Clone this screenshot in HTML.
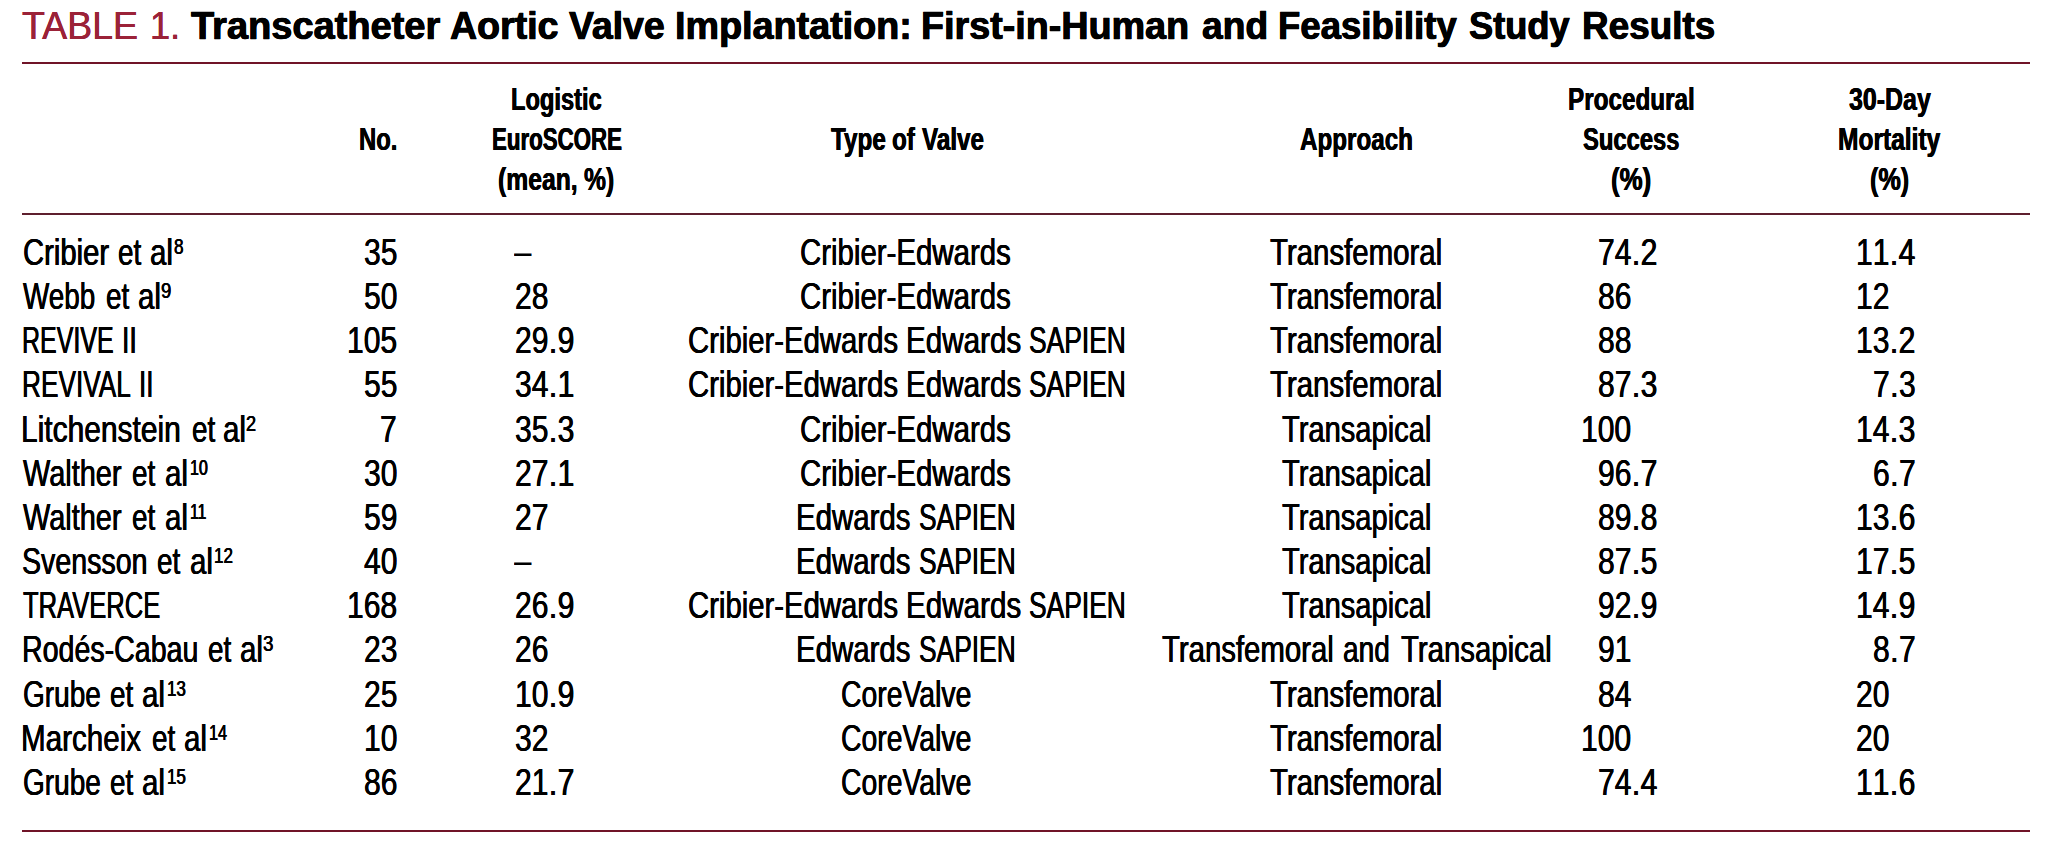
<!DOCTYPE html>
<html lang="en">
<head>
<meta charset="utf-8">
<title>Table 1. Transcatheter Aortic Valve Implantation</title>
<style>
html,body{margin:0;padding:0;background:#fff}
body{width:2045px;height:845px;position:relative;overflow:hidden;font-family:"Liberation Sans",Arial,Helvetica,sans-serif;color:#000}
.ln{position:absolute;left:22px;width:2008px;height:2px;background:#701428}
.r{position:absolute;left:0;width:2045px;height:0;margin:0;padding:0;line-height:1;white-space:nowrap;--w:0px}
.r span,.r b,.r sup{position:absolute;top:0;display:block;white-space:nowrap;line-height:1;transform-origin:0 0;transform:scaleX(var(--s));
 text-shadow:calc(var(--w)/var(--s)) 0 0 currentColor,calc(var(--w)/var(--s)*-1) 0 0 currentColor}
.ttl{font-size:38.9px;color:#9b2238}
.ttl span{--w:.15px}
.ttl b{color:#000;font-weight:bold;--w:0.35px;-webkit-text-stroke:.6px #000}
.hd{font-size:31.9px;font-weight:bold;--w:0.3px}
.bd{font-size:37.3px;--w:0.3px}
.bd sup{font-size:22.0px;top:2.10px;vertical-align:baseline}
.bd .d{text-shadow:none;top:-1px}
.n{font-kerning:none}
.n i{font-style:normal;margin:0 0.015em}
</style>
</head>
<body>
<div class="ln" style="top:62px"></div>
<div class="ln" style="top:213px;background:#5e1f2e"></div>
<div class="ln" style="top:830px"></div>
<div class="r ttl" style="top:7.25px"><span style="left:21.61px;--s:0.9644">TABLE</span> <span style="left:149.84px;--s:0.9284">1.</span> <b style="left:191.30px;--s:0.9773">Transcatheter</b> <b style="left:449.91px;--s:0.9656">Aortic</b> <b style="left:568.60px;--s:0.9620">Valve</b> <b style="left:675.14px;--s:0.9701">Implantation:</b> <b style="left:920.74px;--s:0.9695">First-in-Human</b> <b style="left:1201.62px;--s:0.9567">and</b> <b style="left:1278.12px;--s:0.9396">Feasibility</b> <b style="left:1468.73px;--s:0.9313">Study</b> <b style="left:1581.99px;--s:0.9486">Results</b></div>
<div class="r hd" style="top:84.25px"><span style="left:510.62px;--s:0.7423">Logistic</span> <span style="left:1567.78px;--s:0.7612">Procedural</span> <span style="left:1848.61px;--s:0.7821">30-Day</span></div>
<div class="r hd" style="top:124.25px"><span style="left:358.51px;--s:0.7473">No.</span> <span style="left:491.61px;--s:0.6984">EuroSCORE</span> <span style="left:830.50px;--s:0.7607">Type</span> <span style="left:892.08px;--s:0.7607">of</span> <span style="left:921.73px;--s:0.7607">Valve</span> <span style="left:1299.82px;--s:0.7587">Approach</span> <span style="left:1583.43px;--s:0.7456">Success</span> <span style="left:1838.17px;--s:0.7694">Mortality</span></div>
<div class="r hd" style="top:164.05px"><span style="left:497.64px;--s:0.7749">(mean,</span> <span style="left:584.18px;--s:0.7749">%)</span> <span style="left:1611.39px;--s:0.8113">(%)</span> <span style="left:1870.32px;--s:0.7900">(%)</span></div>
<div class="r bd" style="top:233.80px"><span style="left:22.53px;--s:0.7840">Cribier</span> <span style="left:118.23px;--s:0.7483">et</span> <span style="left:150.18px;--s:0.7911">al</span><sup style="left:173.66px;--s:0.7789">8</sup> <span class="n" style="left:363.59px;--s:0.8052">35</span> <span class="d" style="left:513.80px;--s:0.8436">–</span> <span style="left:800.32px;--s:0.7884">Cribier-Edwards</span> <span style="left:1270.14px;--s:0.7887">Transfemoral</span> <span class="n" style="left:1597.69px;--s:0.8052">74<i>.</i>2</span> <span class="n" style="left:1855.89px;--s:0.8052">11<i>.</i>4</span></div>
<div class="r bd" style="top:277.98px"><span style="left:23.30px;--s:0.7475">Webb</span> <span style="left:105.83px;--s:0.7483">et</span> <span style="left:137.78px;--s:0.7911">al</span><sup style="left:161.43px;--s:0.8436">9</sup> <span class="n" style="left:363.59px;--s:0.8052">50</span> <span class="n" style="left:514.60px;--s:0.8052">28</span> <span style="left:800.32px;--s:0.7884">Cribier-Edwards</span> <span style="left:1270.14px;--s:0.7887">Transfemoral</span> <span class="n" style="left:1597.69px;--s:0.8052">86</span> <span class="n" style="left:1855.89px;--s:0.8052">12</span></div>
<div class="r bd" style="top:322.15px"><span style="left:21.85px;--s:0.6703">REVIVE</span> <span style="left:121.62px;--s:0.7132">II</span> <span class="n" style="left:346.89px;--s:0.8052">105</span> <span class="n" style="left:514.60px;--s:0.8052">29<i>.</i>9</span> <span style="left:688.43px;--s:0.7857">Cribier-Edwards</span> <span style="left:905.99px;--s:0.7941">Edwards</span> <span style="left:1028.67px;--s:0.7081">SAPIEN</span> <span style="left:1270.14px;--s:0.7887">Transfemoral</span> <span class="n" style="left:1597.69px;--s:0.8052">88</span> <span class="n" style="left:1855.89px;--s:0.8052">13<i>.</i>2</span></div>
<div class="r bd" style="top:366.32px"><span style="left:21.75px;--s:0.7036">REVIVAL</span> <span style="left:139.16px;--s:0.6993">II</span> <span class="n" style="left:363.59px;--s:0.8052">55</span> <span class="n" style="left:514.60px;--s:0.8052">34<i>.</i>1</span> <span style="left:688.43px;--s:0.7857">Cribier-Edwards</span> <span style="left:905.99px;--s:0.7941">Edwards</span> <span style="left:1028.67px;--s:0.7081">SAPIEN</span> <span style="left:1270.14px;--s:0.7887">Transfemoral</span> <span class="n" style="left:1597.69px;--s:0.8052">87<i>.</i>3</span> <span class="n" style="left:1872.60px;--s:0.8052">7<i>.</i>3</span></div>
<div class="r bd" style="top:410.50px"><span style="left:21.46px;--s:0.8029">Litchenstein</span> <span style="left:191.53px;--s:0.7483">et</span> <span style="left:223.38px;--s:0.7911">al</span><sup style="left:245.85px;--s:0.8242">2</sup> <span class="n" style="left:380.30px;--s:0.8052">7</span> <span class="n" style="left:514.60px;--s:0.8052">35<i>.</i>3</span> <span style="left:800.32px;--s:0.7884">Cribier-Edwards</span> <span style="left:1282.15px;--s:0.7804">Transapical</span> <span class="n" style="left:1580.99px;--s:0.8052">100</span> <span class="n" style="left:1855.89px;--s:0.8052">14<i>.</i>3</span></div>
<div class="r bd" style="top:454.68px"><span style="left:23.30px;--s:0.7751">Walther</span> <span style="left:132.03px;--s:0.7483">et</span> <span style="left:165.08px;--s:0.7911">al</span><sup style="left:189.80px;--s:0.7273">10</sup> <span class="n" style="left:363.59px;--s:0.8052">30</span> <span class="n" style="left:514.60px;--s:0.8052">27<i>.</i>1</span> <span style="left:800.32px;--s:0.7884">Cribier-Edwards</span> <span style="left:1282.15px;--s:0.7804">Transapical</span> <span class="n" style="left:1597.69px;--s:0.8052">96<i>.</i>7</span> <span class="n" style="left:1872.60px;--s:0.8052">6<i>.</i>7</span></div>
<div class="r bd" style="top:498.85px"><span style="left:23.30px;--s:0.7751">Walther</span> <span style="left:132.03px;--s:0.7483">et</span> <span style="left:165.08px;--s:0.7911">al</span><sup style="left:189.82px;--s:0.7146">11</sup> <span class="n" style="left:363.59px;--s:0.8052">59</span> <span class="n" style="left:514.60px;--s:0.8052">27</span> <span style="left:795.90px;--s:0.7891">Edwards</span> <span style="left:918.68px;--s:0.7073">SAPIEN</span> <span style="left:1282.15px;--s:0.7804">Transapical</span> <span class="n" style="left:1597.69px;--s:0.8052">89<i>.</i>8</span> <span class="n" style="left:1855.89px;--s:0.8052">13<i>.</i>6</span></div>
<div class="r bd" style="top:543.02px"><span style="left:22.11px;--s:0.7661">Svensson</span> <span style="left:156.83px;--s:0.7483">et</span> <span style="left:189.58px;--s:0.7911">al</span><sup style="left:214.03px;--s:0.7746">12</sup> <span class="n" style="left:363.59px;--s:0.8052">40</span> <span class="d" style="left:513.80px;--s:0.8436">–</span> <span style="left:795.90px;--s:0.7891">Edwards</span> <span style="left:918.68px;--s:0.7073">SAPIEN</span> <span style="left:1282.15px;--s:0.7804">Transapical</span> <span class="n" style="left:1597.69px;--s:0.8052">87<i>.</i>5</span> <span class="n" style="left:1855.89px;--s:0.8052">17<i>.</i>5</span></div>
<div class="r bd" style="top:587.20px"><span style="left:23.40px;--s:0.6852">TRAVERCE</span> <span class="n" style="left:346.89px;--s:0.8052">168</span> <span class="n" style="left:514.60px;--s:0.8052">26<i>.</i>9</span> <span style="left:688.43px;--s:0.7857">Cribier-Edwards</span> <span style="left:905.99px;--s:0.7941">Edwards</span> <span style="left:1028.67px;--s:0.7081">SAPIEN</span> <span style="left:1282.15px;--s:0.7804">Transapical</span> <span class="n" style="left:1597.69px;--s:0.8052">92<i>.</i>9</span> <span class="n" style="left:1855.89px;--s:0.8052">14<i>.</i>9</span></div>
<div class="r bd" style="top:631.38px"><span style="left:21.57px;--s:0.7666">Rodés-Cabau</span> <span style="left:208.33px;--s:0.7483">et</span> <span style="left:240.18px;--s:0.7911">al</span><sup style="left:262.61px;--s:0.8540">3</sup> <span class="n" style="left:363.59px;--s:0.8052">23</span> <span class="n" style="left:514.60px;--s:0.8052">26</span> <span style="left:795.90px;--s:0.7891">Edwards</span> <span style="left:918.68px;--s:0.7073">SAPIEN</span> <span style="left:1162.24px;--s:0.7868">Transfemoral</span> <span style="left:1343.02px;--s:0.7529">and</span> <span style="left:1400.54px;--s:0.7873">Transapical</span> <span class="n" style="left:1597.69px;--s:0.8052">91</span> <span class="n" style="left:1872.60px;--s:0.8052">8<i>.</i>7</span></div>
<div class="r bd" style="top:675.55px"><span style="left:22.99px;--s:0.7509">Grube</span> <span style="left:110.33px;--s:0.7483">et</span> <span style="left:142.38px;--s:0.7911">al</span><sup style="left:167.04px;--s:0.7701">13</sup> <span class="n" style="left:363.59px;--s:0.8052">25</span> <span class="n" style="left:514.60px;--s:0.8052">10<i>.</i>9</span> <span style="left:841.37px;--s:0.7608">CoreValve</span> <span style="left:1270.14px;--s:0.7887">Transfemoral</span> <span class="n" style="left:1597.69px;--s:0.8052">84</span> <span class="n" style="left:1855.89px;--s:0.8052">20</span></div>
<div class="r bd" style="top:719.73px"><span style="left:21.49px;--s:0.7938">Marcheix</span> <span style="left:151.83px;--s:0.7483">et</span> <span style="left:184.28px;--s:0.7911">al</span><sup style="left:208.98px;--s:0.7406">14</sup> <span class="n" style="left:363.59px;--s:0.8052">10</span> <span class="n" style="left:514.60px;--s:0.8052">32</span> <span style="left:841.37px;--s:0.7608">CoreValve</span> <span style="left:1270.14px;--s:0.7887">Transfemoral</span> <span class="n" style="left:1580.99px;--s:0.8052">100</span> <span class="n" style="left:1855.89px;--s:0.8052">20</span></div>
<div class="r bd" style="top:763.90px"><span style="left:22.99px;--s:0.7509">Grube</span> <span style="left:110.33px;--s:0.7483">et</span> <span style="left:142.38px;--s:0.7911">al</span><sup style="left:167.04px;--s:0.7701">15</sup> <span class="n" style="left:363.59px;--s:0.8052">86</span> <span class="n" style="left:514.60px;--s:0.8052">21<i>.</i>7</span> <span style="left:841.37px;--s:0.7608">CoreValve</span> <span style="left:1270.14px;--s:0.7887">Transfemoral</span> <span class="n" style="left:1597.69px;--s:0.8052">74<i>.</i>4</span> <span class="n" style="left:1855.89px;--s:0.8052">11<i>.</i>6</span></div>
</body>
</html>
